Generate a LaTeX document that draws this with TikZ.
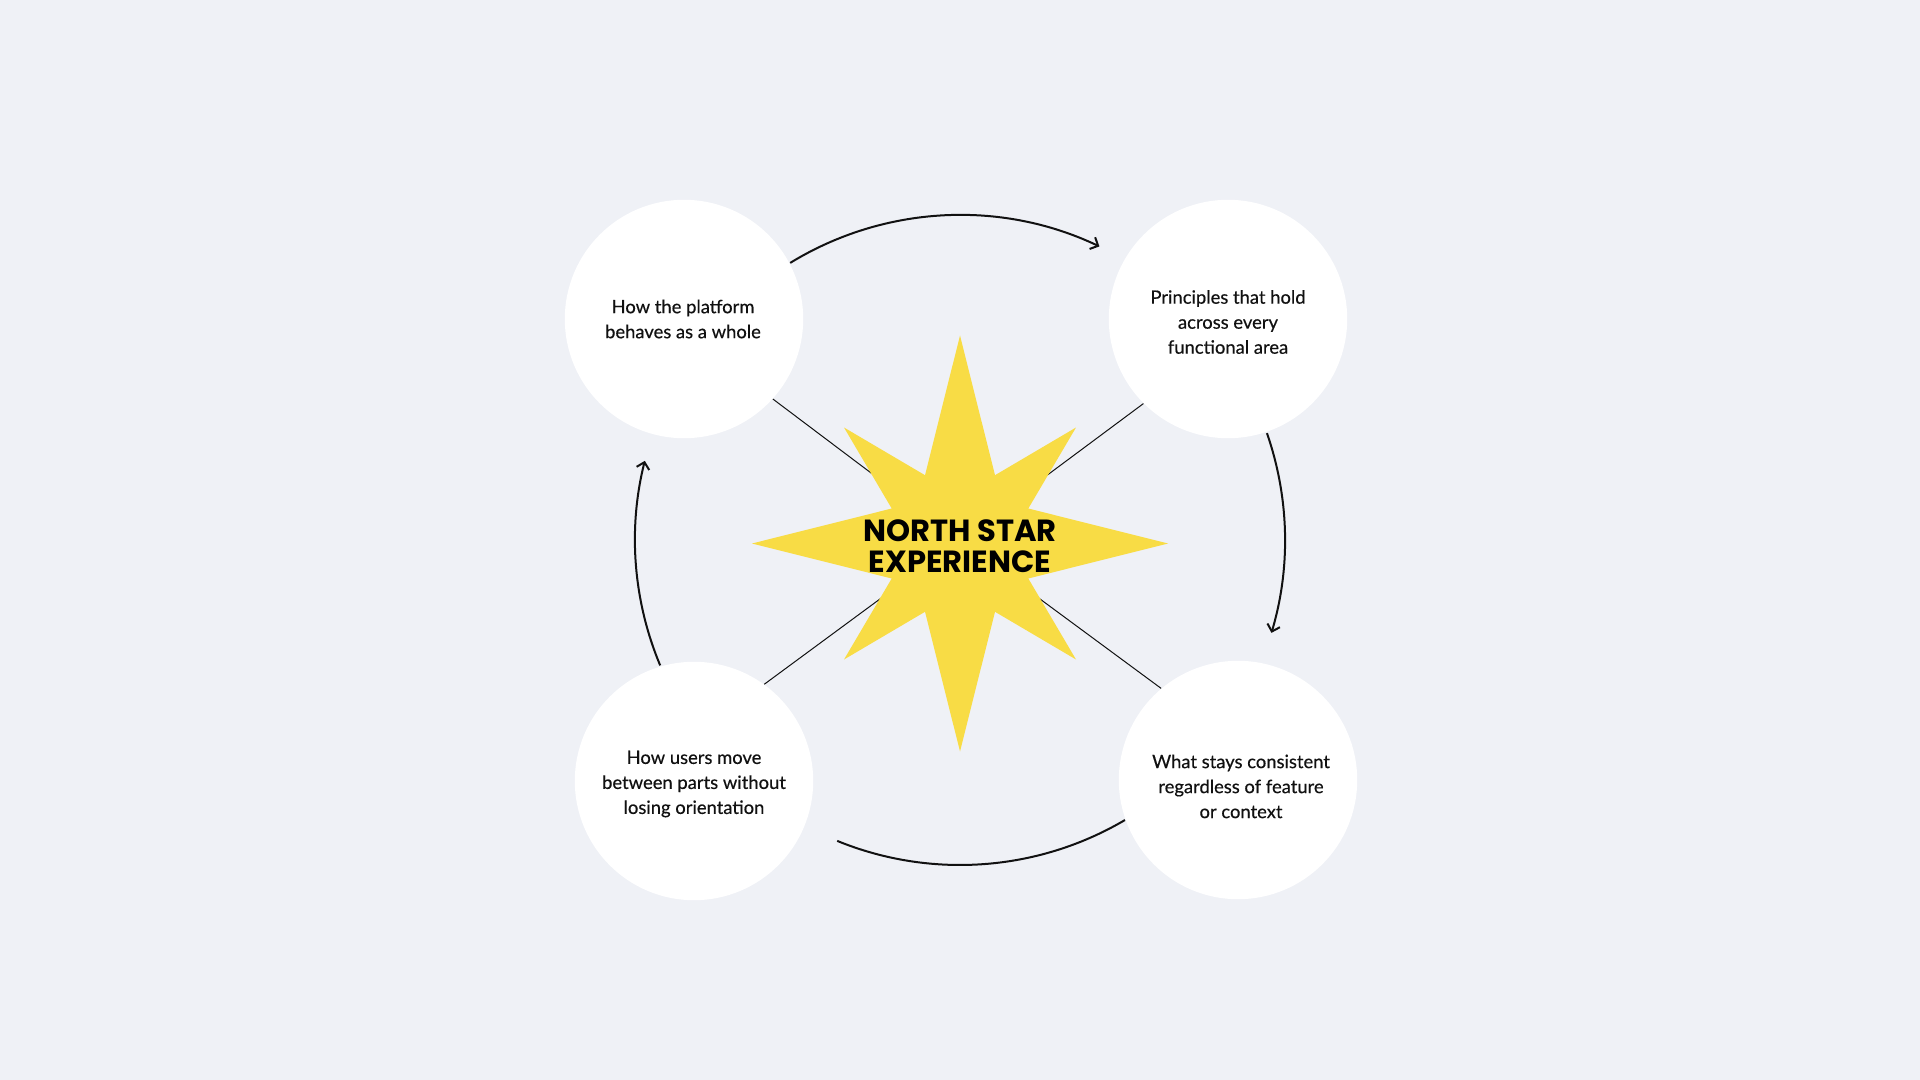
\documentclass[tikz,border=0pt]{standalone}
\usepackage{fontspec}
\setmainfont{Lato}[FakeBold=0.4]
\newfontfamily\titlefont{Poppins}[UprightFont=* Bold]
\usetikzlibrary{arrows.meta}
\definecolor{bgcol}{HTML}{EFF1F6}
\definecolor{starcol}{HTML}{F8DC45}
\definecolor{inkcol}{HTML}{111111}
\tikzset{
  bubble/.style={circle, fill=white, draw=none, minimum size=119.2pt, inner sep=0pt},
  bubbletext/.style={align=center, inner sep=0pt, font=\fontsize{9.2pt}{12.5pt}\selectfont, text=inkcol},
  spoke/.style={draw=inkcol, line width=0.5pt},
  loop/.style={draw=inkcol, line width=1pt},
  looparrow/.style={loop, -{Straight Barb[length=3.2pt,width=6.5pt]}},
  startitle/.style={align=center, font=\titlefont\fontsize{15.3pt}{15.8pt}\selectfont, text=black, inner sep=0pt}
}
\begin{document}
\begin{tikzpicture}[x=0.5pt,y=-0.5pt]
  \fill[bgcol] (0,0) rectangle (1920,1080);
  \useasboundingbox (0,0) rectangle (1920,1080);

  \coordinate (ac) at (960,540);
  \coordinate (sc) at (960,543.5);

  % circles
  \node[bubble] (tl) at (684,319) {};
  \node[bubble] (tr) at (1228,319) {};
  \node[bubble] (bl) at (694,781) {};
  \node[bubble] (br) at (1238,780) {};

  % circle texts
  \node[bubbletext] (tlt) at ([xshift=-0.5pt]tl) {How the platform\\behaves as a whole};
  \node[bubbletext] (trt) at ([yshift=-1.5pt]tr) {Principles that hold\\across every\\functional area};
  \node[bubbletext] (blt) at ([yshift=-1.5pt]bl) {How users move\\between parts without\\losing orientation};
  \node[bubbletext] (brt) at ([xshift=1.5pt,yshift=-3.2pt]br) {What stays consistent\\regardless of feature\\or context};

  % spokes (behind the star)
  \draw[spoke] (tl.-42) -- (ac);
  \draw[spoke] (tr.-135) -- (ac);
  \draw[spoke] (bl.54) -- (ac);
  \draw[spoke] (br.130) -- (ac);

  % star
  \fill[starcol, shift={(sc)}]
    (0,-208) -- (35,-68.3) -- (116,-116) -- (68.3,-35) -- (208,0) -- (68.3,35) --
    (116,116) -- (35,68.3) -- (0,208) -- (-35,68.3) -- (-116,116) -- (-68.3,35) --
    (-208,0) -- (-68.3,-35) -- (-116,-116) -- (-35,-68.3) -- cycle;
  \node[startitle] (title) at (960,546) {NORTH STAR\\EXPERIENCE};

  % loop arcs
  \draw[looparrow] ([shift={(-121.5:325)}]ac) arc[start angle=-121.5, end angle=-64.6, radius=325];
  \draw[looparrow] ([shift={(-19.2:325)}]ac) arc[start angle=-19.2, end angle=16.6, radius=325];
  \draw[loop] ([shift={(59.5:325)}]ac) arc[start angle=59.5, end angle=112.2, radius=325];
  \draw[looparrow] ([shift={(157.3:325)}]ac) arc[start angle=157.3, end angle=194.1, radius=325];
\end{tikzpicture}
\end{document}
